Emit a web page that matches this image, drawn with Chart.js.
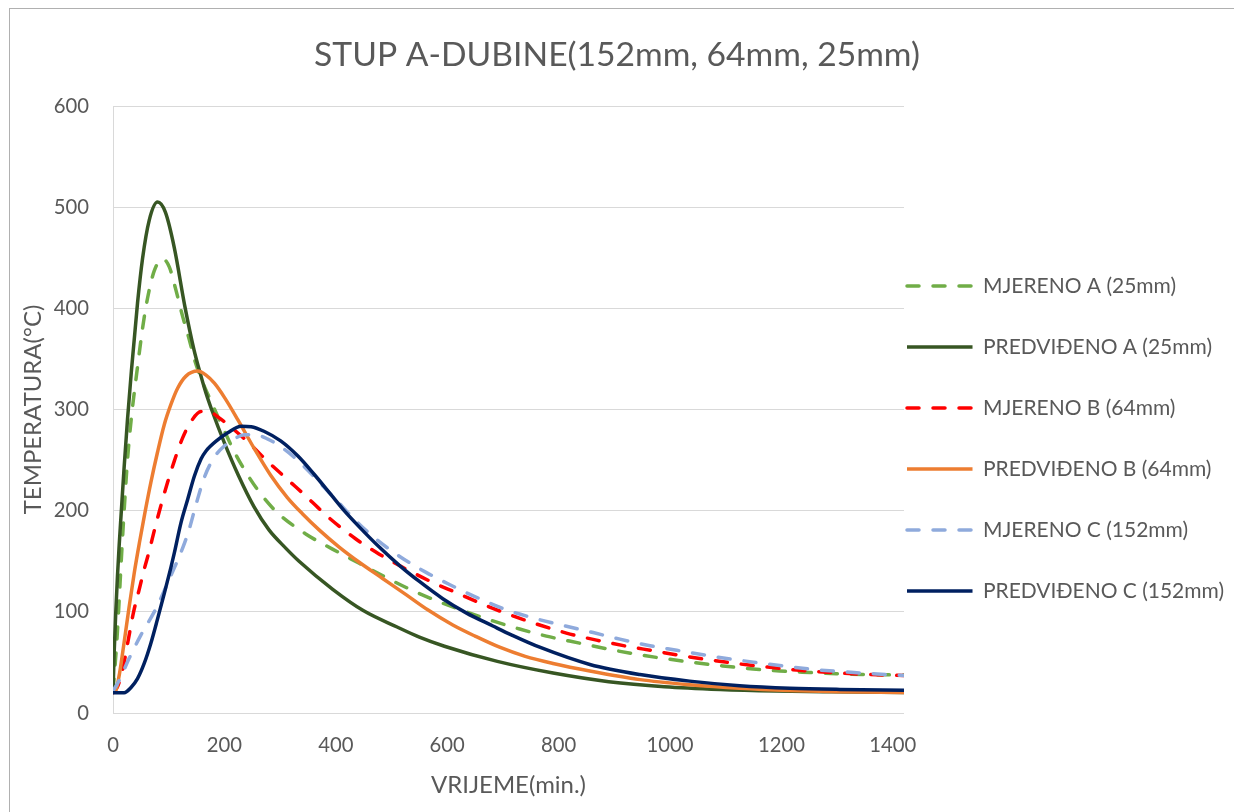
<!DOCTYPE html>
<html>
<head>
<meta charset="utf-8">
<script src="https://cdn.jsdelivr.net/npm/chart.js@4.4.1/dist/chart.umd.min.js"></script>
<style>
  html, body { margin: 0; padding: 0; background: #fff; }
  #wrap { position: relative; width: 1234px; height: 812px; overflow: hidden; }
  #frame { position: absolute; left: 9px; top: 8px; width: 1240px; height: 820px; border: 1px solid #b0b0b0; box-sizing: border-box; }
  canvas { position: absolute; left: 0; top: 0; }
</style>
</head>
<body>
<div id="wrap">
  <div id="frame"></div>
  <canvas id="chart" width="1234" height="812"></canvas>
</div>
<script>
// time (min.) / temperature (°C) pairs
const mjerenoA = [[0,22],[3,42],[7,72],[11,111],[14,142],[17,172],[20,200],[26,250],[33,292],[44,342],[53,380],[62,410],[74,437],[89,449],[101,441],[113,418],[125,392],[137,369],[146,350],[158,331],[176,308],[194,286],[218,258],[242,235],[266,216],[295,198],[346,177],[394,162],[442,148],[490,134],[538,121],[585,110],[634,100],[682,91],[730,83],[778,76],[838,69],[886,63.5],[940,58],[994,53.5],[1041,50],[1095,46.5],[1149,43.5],[1197,41.5],[1251,40],[1299,38.8],[1360,38],[1420,37.5]];
const predvidenoA = [[0,20],[2,58],[5,100],[8,135],[11,165],[15,200],[20,243],[26,290],[33,338],[44,405],[53,449],[65,487],[80,505],[94,495],[110,460],[129,402],[145,360],[158,333],[167,316],[177,300],[200,267],[225,235],[253,204],[280,181],[310,163],[334,150],[395,122],[450,101],[510,85],[550,75],[595,66],[690,51],[790,39.5],[890,31],[990,26],[1090,23.3],[1190,21.8],[1290,21],[1420,20.3]];
const mjerenoB = [[0,20],[8,26],[17,42],[26,68],[37,100],[47,122],[56,142],[65,160],[74,180],[83,199],[98,228],[110,249],[125,272],[140,288],[158,298],[172,298],[190,292],[236,271],[277,249],[319,228],[347,214],[368,203],[394,190],[436,172],[478,157],[520,144],[574,129],[616,119],[670,106],[718,96],[766,87],[814,79],[868,72],[922,66],[970,61.5],[1017,57],[1065,53],[1125,48.5],[1173,45.5],[1227,42.5],[1281,40.3],[1340,38.5],[1420,37]];
const predvidenoB = [[0,20],[5,22],[12,40],[20,70],[29,105],[38,138],[48,170],[58,200],[68,228],[80,258],[92,285],[104,305],[116,321],[131,333],[152,338],[167,334],[182,326],[200,312],[224,290],[254,261],[283,235],[313,213],[340,197],[370,181],[406,164],[442,149],[484,133],[526,117],[565,102],[610,87],[650,76],[694,65],[740,56],[790,49],[856,41.5],[946,33],[1035,28],[1125,24.5],[1215,22.3],[1305,21],[1420,20.3]];
const mjerenoC = [[0,22],[8,29],[16,38],[29,54],[50,77],[77,103],[104,136],[125,163],[137,182],[149,206],[164,233],[182,253],[200,264],[218,271],[236,275],[254,275],[277,271],[307,261],[331,250],[355,237],[379,223],[400,211],[436,190],[472,172],[514,155],[562,139],[604,127],[658,113],[706,102],[754,94],[808,86.5],[862,79.5],[910,73],[964,66.5],[1012,62],[1065,57],[1113,53],[1161,49.5],[1215,45.7],[1269,42.5],[1330,40],[1420,37]];
const predvidenoC = [[0,20],[20,20],[32,25],[44,34],[56,49],[68,69],[80,93],[92,118],[104,144],[110,158],[122,188],[134,211],[146,234],[158,251],[167,259],[188,270],[206,277],[230,283.5],[248,283],[271,278.5],[301,269],[332,254],[361,236],[391,216],[415,200],[442,184],[478,164],[514,146],[550,130],[592,113],[634,99],[682,86],[716,77],[766,65],[856,48],[946,38],[1035,31.5],[1125,27],[1215,24.5],[1305,23.3],[1420,22.5]];

const seriesNames = ['MJERENO A (25mm)', 'PREDVIĐENO A (25mm)', 'MJERENO B (64mm)', 'PREDVIĐENO B (64mm)', 'MJERENO C (152mm)', 'PREDVIĐENO C (152mm)'];
const seriesData = [mjerenoA, predvidenoA, mjerenoB, predvidenoB, mjerenoC, predvidenoC];
const seriesColors = ['#70AD47', '#375623', '#FF0000', '#ED7D31', '#8FAADC', '#002060'];
const seriesDashed = [true, false, true, false, true, false];
const xTicks = [0, 200, 400, 600, 800, 1000, 1200, 1400];

const FONT = "Lato, 'Noto Sans', sans-serif";
const GREY = '#595959';
const DASH = [12, 14];

// size the fallback font so text widths match the picture
const meas = document.createElement('canvas').getContext('2d');
function fitSize(text, width) {
    meas.font = '100px ' + FONT;
    return 100 * width / meas.measureText(text).width;
}
function textWidth(text, size) {
    meas.font = size + 'px ' + FONT;
    return meas.measureText(text).width;
}

const titleSize = fitSize('STUP A-DUBINE(152mm, 64mm, 25mm)', 606);
const legendSize = fitSize('PREDVIĐENO C (152mm)', 241);
const tickSize = fitSize('1000', 47);
const axisSize = fitSize('VRIJEME(min.)', 155);

const titleLH = titleSize * 1.2;
const tickLH = tickSize * 1.2;
const axisLH = axisSize * 1.2;

// legend geometry: line sample 908..974, text starts at 983, rows 61px apart
const legendBox = 76 - legendSize / 2;
const maxLegendText = Math.max(...seriesNames.map(n => textWidth(n, legendSize)));
const legendWidth = 3 + legendBox + legendSize / 2 + maxLegendText + 10;
const rightPad = Math.max(0, 330 - legendWidth);

const datasets = seriesData.map((pts, i) => ({
    label: seriesNames[i],
    data: pts.map(p => ({ x: p[0], y: p[1] })),
    borderColor: seriesColors[i],
    backgroundColor: seriesColors[i],
    borderWidth: 3.5,
    borderDash: seriesDashed[i] ? DASH : [],
    borderCapStyle: seriesDashed[i] ? 'round' : 'butt',
    pointRadius: 0,
    pointHoverRadius: 0,
    fill: false,
    cubicInterpolationMode: 'monotone',
    order: seriesData.length - i
}));

new Chart(document.getElementById('chart').getContext('2d'), {
    type: 'line',
    data: { datasets: datasets },
    options: {
        responsive: false,
        animation: false,
        devicePixelRatio: 1,
        layout: { padding: { left: 0, right: rightPad, top: 0, bottom: 0 } },
        plugins: {
            tooltip: { enabled: false },
            title: {
                display: true,
                text: 'STUP A-DUBINE(152mm, 64mm, 25mm)',
                color: GREY,
                font: { family: FONT, size: titleSize, weight: 'normal', lineHeight: 1.2 },
                padding: { top: 55 - titleLH / 2, bottom: 106 - 55 - titleLH / 2 }
            },
            legend: {
                position: 'right',
                align: 'start',
                fullSize: false,
                maxWidth: 500,
                title: {
                    display: true,
                    text: ' ',
                    font: { size: 10, lineHeight: 1 },
                    padding: { top: 0, bottom: 167 - legendSize / 2 }
                },
                labels: {
                    usePointStyle: true,
                    pointStyle: 'line',
                    pointStyleWidth: legendBox,
                    padding: 3,
                    color: GREY,
                    font: { family: FONT, size: legendSize, lineHeight: '58px' },
                    sort: (a, b) => a.datasetIndex - b.datasetIndex,
                    generateLabels: chart => Chart.defaults.plugins.legend.labels.generateLabels(chart)
                        .map(item => {
                            const ds = chart.data.datasets[item.datasetIndex];
                            return Object.assign(item, {
                                text: [item.text],
                                lineDash: ds.borderDash,
                                lineCap: ds.borderCapStyle,
                                lineWidth: ds.borderWidth,
                                strokeStyle: ds.borderColor
                            });
                        })
                }
            }
        },
        scales: {
            x: {
                type: 'linear',
                min: 0,
                max: 1420,
                afterBuildTicks: scale => { scale.ticks = xTicks.map(v => ({ value: v })); },
                ticks: {
                    maxRotation: 0,
                    autoSkip: false,
                    color: GREY,
                    font: { family: FONT, size: tickSize, lineHeight: 1.2 },
                    padding: 745 - 713 - tickLH / 2,
                    callback: v => String(v)
                },
                grid: { display: false, drawTicks: false },
                border: { display: false },
                title: {
                    display: true,
                    text: 'VRIJEME(min.)',
                    color: GREY,
                    font: { family: FONT, size: axisSize, lineHeight: 1.2 },
                    padding: { top: 0, bottom: 27 - axisLH / 2 }
                },
                afterFit: scale => { scale.height = 99; }
            },
            y: {
                min: 0,
                max: 600,
                ticks: {
                    stepSize: 100,
                    color: GREY,
                    font: { family: FONT, size: tickSize, lineHeight: 1.2 },
                    padding: 24
                },
                grid: { color: '#d9d9d9', lineWidth: 1, drawTicks: false },
                border: { display: true, color: '#d9d9d9', width: 1 },
                title: {
                    display: true,
                    text: 'TEMPERATURA(°C)',
                    color: GREY,
                    font: { family: FONT, size: axisSize, lineHeight: 1.2 },
                    padding: { top: 33 - axisLH / 2, bottom: 0 }
                },
                afterFit: scale => { scale.width = 113; }
            }
        }
    }
});
</script>
</body>
</html>
